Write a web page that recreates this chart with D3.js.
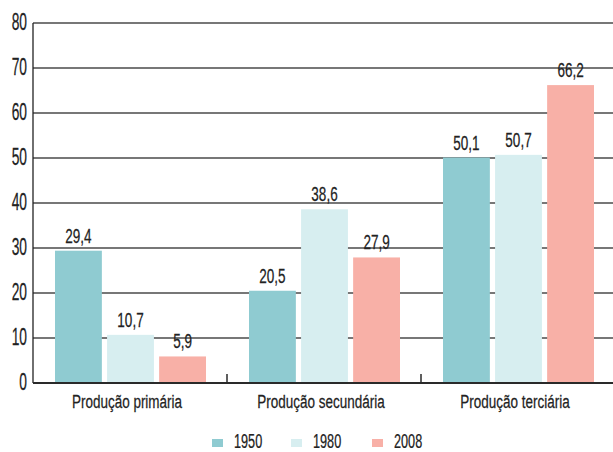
<!DOCTYPE html>
<html>
<head>
<meta charset="utf-8">
<script src="https://cdn.jsdelivr.net/npm/d3@7"></script>
<style>
  html, body { margin: 0; padding: 0; background: #fff; }
  svg { display: block; }
  text { font-family: "Liberation Sans", Arial, sans-serif; fill: #222; stroke: #222; stroke-width: 0.25px; }
</style>
</head>
<body>
<svg id="chart" width="613" height="452"></svg>
<script>
// Sectors of production and their share (%) in each year
const categories = ["Produção primária", "Produção secundária", "Produção terciária"];
const years = ["1950", "1980", "2008"];
const values1950 = [29.4, 20.5, 50.1];
const values1980 = [10.7, 38.6, 50.7];
const values2008 = [5.9, 27.9, 66.2];
const yTicks = [0, 10, 20, 30, 40, 50, 60, 70, 80];
const colors = ["#8fcbd1", "#d7eef0", "#f8b0a7"];

const seriesValues = [values1950, values1980, values2008];
const fmt = v => v.toFixed(1).replace(".", ",");

const svg = d3.select("#chart");
const plotLeft = 33, plotTop = 23, plotBottom = 383;
const plotW = 582;

const x0 = d3.scaleBand().domain(categories).range([plotLeft, plotLeft + plotW]);
const x1 = d3.scaleBand().domain(years).range([22, 173]).paddingInner(0.1);
const y = d3.scaleLinear().domain([0, 80]).range([plotBottom, plotTop]);

// horizontal gridlines
svg.append("g")
  .selectAll("line")
  .data(yTicks.filter(t => t > 0))
  .join("line")
  .attr("x1", plotLeft).attr("x2", 613)
  .attr("y1", d => y(d)).attr("y2", d => y(d))
  .attr("stroke", "#4a4a4a").attr("stroke-width", 1.4);

// bars
const groups = svg.append("g")
  .selectAll("g")
  .data(categories)
  .join("g")
  .attr("transform", c => `translate(${x0(c)},0)`);

const rows = (c, i) => years.map((yr, j) => ({ yr, j, v: seriesValues[j][i] }));

groups.selectAll("rect")
  .data(rows)
  .join("rect")
  .attr("x", d => x1(d.yr))
  .attr("width", x1.bandwidth())
  .attr("y", d => y(d.v))
  .attr("height", d => y(0) - y(d.v))
  .attr("fill", d => colors[d.j]);

// value labels
groups.selectAll("text")
  .data(rows)
  .join("text")
  .attr("transform", d => `translate(${x1(d.yr) + x1.bandwidth() / 2},${y(d.v) - 8}) scale(0.66,1)`)
  .attr("text-anchor", "middle")
  .attr("font-size", 20.5)
  .text(d => fmt(d.v));

// y axis
const yAxis = svg.append("g");
yAxis.append("line")
  .attr("x1", plotLeft).attr("x2", plotLeft)
  .attr("y1", y(80)).attr("y2", y(0))
  .attr("stroke", "#222").attr("stroke-width", 1.3);
yAxis.selectAll("text")
  .data(yTicks)
  .join("text")
  .attr("transform", d => `translate(27,${y(d) + 7}) scale(0.6,1)`)
  .attr("text-anchor", "end")
  .attr("font-size", 23)
  .text(d => d);

// x axis baseline with inner ticks between categories
const xAxis = svg.append("g");
xAxis.append("line")
  .attr("x1", plotLeft).attr("x2", 613)
  .attr("y1", y(0)).attr("y2", y(0))
  .attr("stroke", "#2a2a2a").attr("stroke-width", 2);
xAxis.selectAll("line.tick")
  .data(categories.slice(1))
  .join("line")
  .attr("class", "tick")
  .attr("x1", c => x0(c)).attr("x2", c => x0(c))
  .attr("y1", y(0) - 9).attr("y2", y(0))
  .attr("stroke", "#2a2a2a").attr("stroke-width", 1.5);
xAxis.selectAll("text")
  .data(categories)
  .join("text")
  .attr("transform", c => `translate(${x0(c) + x0.bandwidth() / 2 - 3},408) scale(0.71,1)`)
  .attr("text-anchor", "middle")
  .attr("font-size", 19)
  .text(c => c);

// legend
const legend = svg.append("g");
const legendX = [212, 291, 372];
const item = legend.selectAll("g")
  .data(years)
  .join("g")
  .attr("transform", (d, i) => `translate(${legendX[i]},0)`);
item.append("rect")
  .attr("x", 0).attr("y", 439).attr("width", 11).attr("height", 8)
  .attr("fill", (d, i) => colors[i]);
item.append("text")
  .attr("transform", "translate(22,447.5) scale(0.65,1)")
  .attr("font-size", 19.5)
  .text(d => d);
</script>
</body>
</html>
